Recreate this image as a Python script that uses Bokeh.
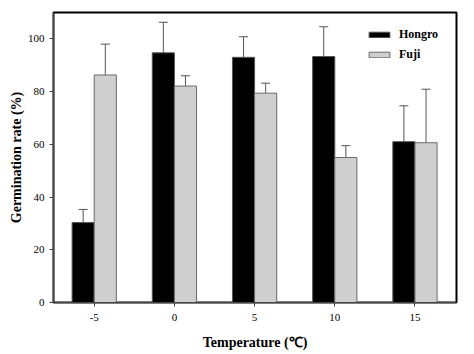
from bokeh.plotting import figure
from bokeh.models import ColumnDataSource, Range1d, FixedTicker, Whisker, TeeHead, Legend, LegendItem
from bokeh.transform import dodge
from bokeh.embed import file_html
from bokeh.resources import INLINE

temperature = [-5, 0, 5, 10, 15]
tick_labels = ["-5", "0", "5", "10", "15"]
hongro = [30.3, 94.7, 93.0, 93.3, 61.0]
hongro_err = [5.0, 11.6, 7.8, 11.3, 13.6]
fuji = [86.3, 82.1, 79.4, 55.0, 60.6]
fuji_err = [11.7, 3.9, 3.8, 4.5, 20.3]

src = ColumnDataSource(dict(
    temp=temperature,
    hongro=hongro,
    fuji=fuji,
    hongro_up=[v + e for v, e in zip(hongro, hongro_err)],
    fuji_up=[v + e for v, e in zip(fuji, fuji_err)],
))

SERIF = "Liberation Serif"
OFF = 0.69
BW = 1.38

p = figure(width=474, height=354, output_backend="svg", toolbar_location=None,
           x_range=Range1d(-7.54, 17.59), y_range=Range1d(0, 110),
           min_border_left=53, min_border_right=18, min_border_top=12, min_border_bottom=52)
p.grid.visible = False
p.background_fill_color = "white"
p.border_fill_color = "white"
p.outline_line_color = "black"
p.outline_line_width = 2

r1 = p.vbar(x=dodge("temp", -OFF), top="hongro", width=BW, bottom=0, source=src,
            fill_color="black", line_color="#555555", line_width=1)
r2 = p.vbar(x=dodge("temp", OFF), top="fuji", width=BW, bottom=0, source=src,
            fill_color="#cfcfcf", line_color="#6a6a6a", line_width=1)

for col, up, off in (("hongro", "hongro_up", -OFF), ("fuji", "fuji_up", OFF)):
    w = Whisker(base=dodge("temp", off), lower=col, upper=up, source=src, dimension="height",
                line_color="#555555", line_width=1,
                upper_head=TeeHead(size=9, line_color="#555555", line_width=1), lower_head=None)
    p.add_layout(w)

for ax in (p.xaxis[0], p.yaxis[0]):
    ax.axis_line_color = "#444444"
    ax.major_tick_line_color = "#444444"
    ax.major_tick_in = 0
    ax.major_tick_out = 4
    ax.minor_tick_line_color = None
    ax.major_label_text_font = SERIF
    ax.major_label_text_font_size = "11px"
    ax.major_label_text_color = "black"
    ax.axis_label_text_font = SERIF
    ax.axis_label_text_font_style = "bold"
    ax.axis_label_text_font_size = "14px"
    ax.axis_label_text_color = "black"

p.xaxis.ticker = FixedTicker(ticks=temperature)
p.xaxis.major_label_overrides = {t: s for t, s in zip(temperature, tick_labels)}
p.yaxis.ticker = FixedTicker(ticks=[0, 20, 40, 60, 80, 100])
p.xaxis.axis_label = "Temperature (℃)"
p.yaxis.axis_label = "Germination rate (%)"
p.xaxis.major_label_standoff = 7
p.xaxis.axis_label_standoff = 11
p.yaxis.major_label_standoff = 5
p.yaxis.axis_label_standoff = 1

legend = Legend(items=[LegendItem(label="Hongro", renderers=[r1]),
                       LegendItem(label="Fuji", renderers=[r2])],
                location=(313, 240), orientation="vertical",
                glyph_width=26, glyph_height=7, label_height=7, spacing=5,
                padding=0, margin=0, label_standoff=7,
                border_line_color=None, background_fill_alpha=0,
                label_text_font=SERIF, label_text_font_style="bold",
                label_text_font_size="12px", label_text_color="black")
p.add_layout(legend)

open("out.html", "w").write(file_html(p, INLINE))
